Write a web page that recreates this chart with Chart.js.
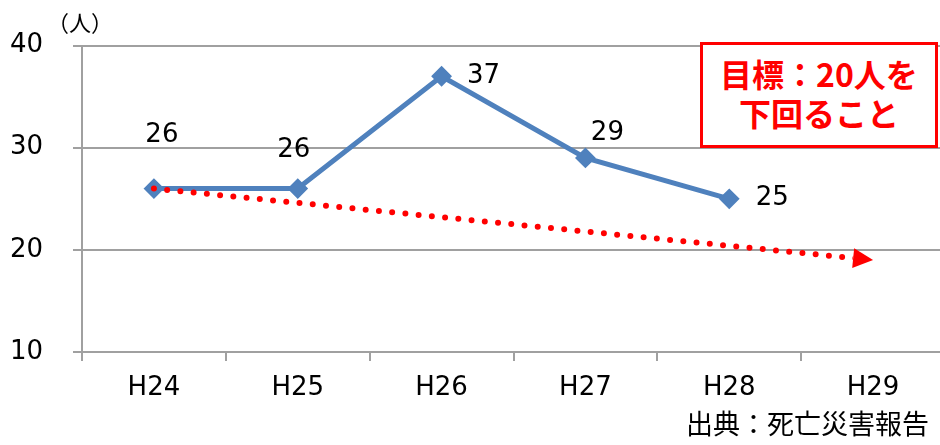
<!DOCTYPE html>
<html lang="ja">
<head>
<meta charset="utf-8">
<title>死亡災害の推移</title>
<script src="https://cdn.jsdelivr.net/npm/chart.js@4.4.1/dist/chart.umd.min.js"></script>
<style>
    html, body { margin: 0; padding: 0; background: #fff; overflow: hidden; }
    #wrap { position: relative; width: 940px; height: 445px; overflow: hidden; }
    #chart { position: absolute; left: 0; top: 0; }
    .unit {
        position: absolute; left: 47px; top: 10px;
        font: 22px/22px "Noto Sans CJK JP", sans-serif; color: #000;
    }
    .goal {
        position: absolute; left: 700px; top: 42px; width: 238px; height: 106px;
        box-sizing: border-box; border: 3px solid #ff0000; background: #fff;
        color: #ff0000; font: bold 32px/39px "Noto Sans CJK JP", sans-serif;
        text-align: center; padding-top: 9px;
    }
    .source {
        position: absolute; left: 686px; top: 409px;
        font: 27px/27px "Noto Sans CJK JP", sans-serif; color: #000; white-space: nowrap;
    }
</style>
</head>
<body>
<div id="wrap">
    <canvas id="chart" width="956" height="445"></canvas>
    <div class="unit">（人）</div>
    <div class="goal">目標：20人を<br>下回ること</div>
    <div class="source">出典：死亡災害報告</div>
</div>
<script>
// 년도 (x축)
const years = ['H24', 'H25', 'H26', 'H27', 'H28', 'H29'];
// 사망자 수 실적
const deaths = [26, 26, 37, 29, 25, null];
// 목표 추세선 (시작점과 끝점)
const target = [26, null, null, null, null, 19];
// y축 범위
const yMin = 10;
const yMax = 40;
const yStep = 10;

// 데이터 라벨 위치 보정 (px)
const labelOffsets = [[8, -53], [-4, -38], [42, 0], [22, -25], [43, -1]];

const gridGray = '#a0a0a0';
const tickFont = { family: 'DejaVu Sans', size: 26 };

// 데이터 라벨 그리기
const valueLabels = {
    id: 'valueLabels',
    afterDatasetsDraw(chart) {
        const meta = chart.getDatasetMeta(1);
        const ctx = chart.ctx;
        ctx.save();
        ctx.font = '26px "DejaVu Sans"';
        ctx.fillStyle = '#000';
        ctx.textAlign = 'center';
        ctx.textBaseline = 'middle';
        meta.data.forEach((pt, i) => {
            const v = deaths[i];
            if (v === null) return;
            const off = labelOffsets[i] || [0, -20];
            ctx.fillText(String(v), pt.x + off[0], pt.y + off[1]);
        });
        ctx.restore();
    }
};

// 목표선 끝에 화살표
const arrowHead = {
    id: 'arrowHead',
    afterDatasetsDraw(chart) {
        const meta = chart.getDatasetMeta(0);
        const pts = meta.data.filter((p, i) => target[i] !== null);
        if (pts.length < 2) return;
        const a = pts[pts.length - 2];
        const b = pts[pts.length - 1];
        const ang = Math.atan2(b.y - a.y, b.x - a.x);
        const len = 20, half = 10;
        const ctx = chart.ctx;
        ctx.save();
        ctx.translate(b.x, b.y);
        ctx.rotate(ang);
        // 화살표 아래 점선 지우기
        ctx.fillStyle = '#fff';
        ctx.fillRect(-len, -4, len + 6, 8);
        ctx.beginPath();
        ctx.moveTo(0, 0);
        ctx.lineTo(-len, -half);
        ctx.lineTo(-len, half);
        ctx.closePath();
        ctx.fillStyle = '#ff0000';
        ctx.fill();
        ctx.restore();
    }
};

const ctx = document.getElementById('chart').getContext('2d');
new Chart(ctx, {
    type: 'line',
    data: {
        labels: years,
        datasets: [
            {
                label: '目標',
                data: target,
                borderColor: '#ff0000',
                borderWidth: 6,
                borderDash: [0, 13.3],
                borderCapStyle: 'round',
                pointRadius: 0,
                spanGaps: true,
                tension: 0,
                order: 0
            },
            {
                label: '死亡者数',
                data: deaths,
                borderColor: '#4f81bd',
                backgroundColor: '#4f81bd',
                borderWidth: 5,
                pointStyle: 'rectRot',
                pointRadius: 9,
                pointBorderWidth: 2,
                pointBackgroundColor: '#4f81bd',
                pointBorderColor: '#4f81bd',
                tension: 0,
                order: 1
            }
        ]
    },
    options: {
        responsive: false,
        animation: false,
        layout: { padding: { top: 45, right: 0, bottom: 0, left: 0 } },
        plugins: {
            legend: { display: false },
            tooltip: { enabled: false }
        },
        scales: {
            x: {
                offset: true,
                grid: {
                    display: true,
                    drawOnChartArea: false,
                    drawTicks: true,
                    tickLength: 9,
                    color: gridGray,
                    lineWidth: 2,
                    offset: true
                },
                border: { display: false },
                ticks: { color: '#000', font: tickFont, padding: 12 },
                afterFit(scale) { scale.height = 93; }
            },
            y: {
                min: yMin,
                max: yMax,
                ticks: { stepSize: yStep, color: '#000', font: tickFont, padding: 30 },
                grid: { color: gridGray, lineWidth: 2, tickLength: 9 },
                border: { display: true, color: gridGray, width: 2 },
                afterFit(scale) { scale.width = 82; }
            }
        }
    },
    plugins: [valueLabels, arrowHead]
});
</script>
</body>
</html>
